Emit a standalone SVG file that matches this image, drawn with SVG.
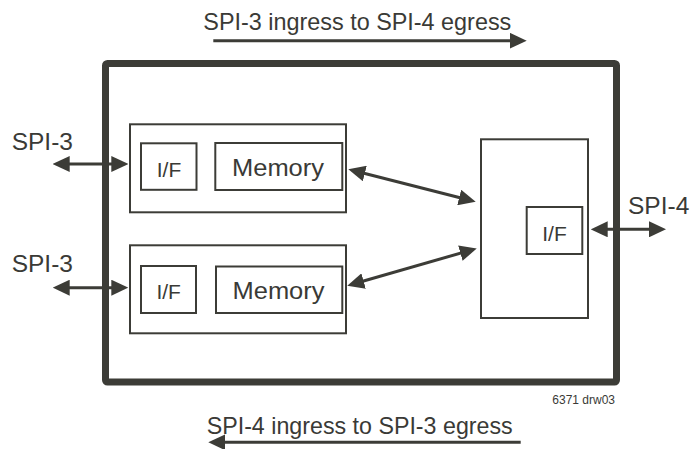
<svg xmlns="http://www.w3.org/2000/svg" width="690" height="449" viewBox="0 0 690 449">
<style>
.t{font-family:"Liberation Sans",Arial,sans-serif;fill:#3a3a36}
.box{fill:#fff;stroke:#3c3c37;stroke-width:2}
.ar{stroke:#3c3c37;stroke-width:3;fill:none}
</style>
<defs>
<marker id="ah" viewBox="0 0 17 16" refX="10" refY="8" markerWidth="17" markerHeight="16" markerUnits="userSpaceOnUse" orient="auto-start-reverse">
<path d="M0,0 L17,8 L0,16 z" fill="#3c3c37"/>
</marker>
</defs>
<rect width="690" height="449" fill="#fff"/>
<g id="chip">
<rect x="105.5" y="63.5" width="511" height="318.5" rx="2" fill="#fff" stroke="#3c3c37" stroke-width="7"/>
<text class="t" x="615" y="403.5" font-size="12" text-anchor="end">6371 drw03</text>
</g>
<g id="block-upper">
<rect class="box" x="130" y="124.3" width="216" height="88"/>
</g>
<g id="if-upper">
<rect class="box" x="141" y="143.3" width="55.5" height="46.5"/>
<text class="t" x="169" y="176.7" font-size="21" text-anchor="middle">I/F</text>
</g>
<g id="mem-upper">
<rect class="box" x="215.3" y="143" width="127" height="47"/>
<text class="t" x="278" y="175.7" font-size="24.5" text-anchor="middle" textLength="92" lengthAdjust="spacingAndGlyphs">Memory</text>
</g>
<g id="block-lower">
<rect class="box" x="130" y="245.3" width="216" height="88"/>
</g>
<g id="if-lower">
<rect class="box" x="141" y="266" width="55" height="47"/>
<text class="t" x="168.7" y="299" font-size="21" text-anchor="middle">I/F</text>
</g>
<g id="mem-lower">
<rect class="box" x="216" y="266.5" width="126.3" height="46.5"/>
<text class="t" x="278.5" y="299" font-size="24.5" text-anchor="middle" textLength="92" lengthAdjust="spacingAndGlyphs">Memory</text>
</g>
<g id="spi4-block">
<rect class="box" x="481" y="139.3" width="107" height="178.7"/>
</g>
<g id="if-spi4">
<rect class="box" x="526.7" y="207" width="55.6" height="47"/>
<text class="t" x="554.5" y="241" font-size="21" text-anchor="middle">I/F</text>
</g>
<g id="labels">
<text class="t" x="11.7" y="150" font-size="24.5">SPI-3</text>
<text class="t" x="11.7" y="271.7" font-size="24.5">SPI-3</text>
<text class="t" x="628" y="213.5" font-size="24.5">SPI-4</text>
<text class="t" x="203.3" y="30" font-size="24" textLength="308" lengthAdjust="spacingAndGlyphs">SPI-3 ingress to SPI-4 egress</text>
<text class="t" x="206.7" y="434.3" font-size="24" textLength="306" lengthAdjust="spacingAndGlyphs">SPI-4 ingress to SPI-3 egress</text>
</g>
<g id="connectors">
<line class="ar" x1="213.3" y1="40.7" x2="519.7" y2="40.7" marker-end="url(#ah)"/>
<line class="ar" x1="520.7" y1="442.3" x2="215.3" y2="442.3" marker-end="url(#ah)"/>
<line class="ar" x1="59.7" y1="164" x2="121.3" y2="164" marker-start="url(#ah)" marker-end="url(#ah)"/>
<line class="ar" x1="59.7" y1="287.7" x2="121.3" y2="287.7" marker-start="url(#ah)" marker-end="url(#ah)"/>
<line class="ar" x1="597.7" y1="229.3" x2="659" y2="229.3" marker-start="url(#ah)" marker-end="url(#ah)"/>
<line class="ar" x1="355.1" y1="171" x2="468.9" y2="200" marker-start="url(#ah)" marker-end="url(#ah)"/>
<line class="ar" x1="354" y1="283.8" x2="470" y2="250.4" marker-start="url(#ah)" marker-end="url(#ah)"/>
</g>
</svg>
